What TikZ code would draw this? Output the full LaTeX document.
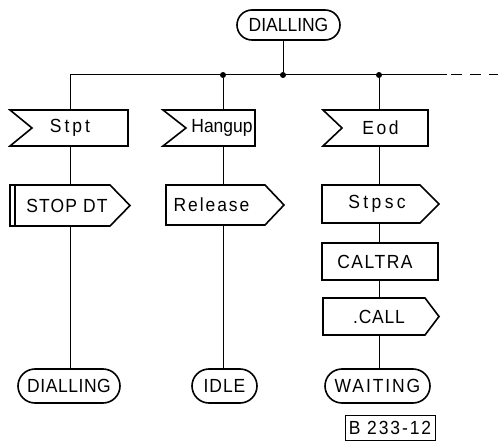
\documentclass[tikz,border=0pt]{standalone}
\usepackage{fontspec}
\setmainfont[FakeStretch=0.92]{Liberation Sans}
\usetikzlibrary{shapes.misc,calc}

\begin{document}
\begin{tikzpicture}[x=1pt,y=-1pt,
  txt/.style={font=\fontsize{19}{22}\selectfont\addfontfeature{LetterSpace=#1}},
  txt/.default=0,
  outl/.style={line width=1.6pt, line join=miter},
  conn/.style={line width=1pt},
  blk/.style={inner sep=0pt, outer sep=0pt},
  term/.style={draw, rounded rectangle, line width=1.6pt, inner sep=0pt},
  jdot/.style={circle, fill, inner sep=0pt, minimum size=6pt}]

\useasboundingbox (0,0) rectangle (498,441);

% ---- starting state and the branch bus ----
\node[term, txt=0, minimum width=103pt, minimum height=30pt] (top) at (288.5,25) {DIALLING};

\coordinate (busL) at (70,75);
\node[jdot] (j1) at (223,75) {};
\node[jdot] (j2) at (283,75) {};
\node[jdot] (j3) at (379,75) {};
\coordinate (busS) at (447,75);
\coordinate (busE) at (498,75);

% ---- input signals (notched on the left) ----
\node[blk, minimum width=118pt, minimum height=36pt,
      label={[txt=16, xshift=1pt]center:Stpt}] (stpt) at (69,128) {};
\node[blk, minimum width=92pt, minimum height=36pt,
      label={[txt=0, xshift=13pt]center:Hangup}] (hangup) at (209,128) {};
\node[blk, minimum width=105pt, minimum height=36pt,
      label={[txt=13, xshift=5pt]center:Eod}] (eod) at (375.5,128) {};

\foreach \n/\d in {stpt/22, hangup/23, eod/19}
  \draw[outl] (\n.north west) -- (\n.north east) -- (\n.south east)
              -- (\n.south west) -- ($(\n.west)+(\d,0)$) -- cycle;

% ---- output signals (pointed on the right) ----
\node[blk, minimum width=100pt, minimum height=41pt,
      label={[txt=6, xshift=7pt]center:STOP DT}] (stopdt) at (60,205.5) {};
\node[blk, minimum width=99pt, minimum height=40pt,
      label={[txt=10, xshift=-4pt]center:Release}] (release) at (215.5,205) {};
\node[blk, minimum width=98pt, minimum height=38pt,
      label={[txt=18, xshift=6pt]center:Stpsc}] (stpsc) at (371,204) {};
\node[blk, minimum width=102pt, minimum height=37pt,
      label={[txt=4, xshift=5pt]center:.CALL}] (call) at (374,316.5) {};

\foreach \n/\t in {stopdt/20, release/19, stpsc/19, call/14}
  \draw[outl] (\n.south west) -- (\n.north west) -- (\n.north east)
              -- ($(\n.east)+(\t,0)$) -- (\n.south east) -- cycle;

% double bar on the left of STOP DT
\draw[outl] ($(stopdt.north west)+(5,0)$) -- ($(stopdt.south west)+(5,0)$);

% ---- task ----
\node[draw, outl, blk, minimum width=116pt, minimum height=37pt,
      label={[txt=8, xshift=-5pt]center:CALTRA}] (caltra) at (380,261.5) {};

% ---- next states ----
\node[term, txt=3, minimum width=102pt, minimum height=34pt] (dial) at (69,386) {DIALLING};
\node[term, txt=5, minimum width=65pt, minimum height=34pt] (idle) at (224.5,386) {IDLE};
\node[term, txt=10, minimum width=105pt, minimum height=34pt] (wait) at (377.5,386) {WAITING};

% ---- figure reference ----
\node[draw, line width=1pt, txt=10, minimum width=90pt, minimum height=25pt, inner sep=1pt]
      (ref) at (390,427.5) {B 233-12};

% ---- connectors ----
\draw[conn] (busL) -- (busS);
\draw[conn, dash pattern=on 11pt off 8pt, dash phase=15pt] (busS) -- (busE);
\draw[conn] (top.south -| j2) -- (j2);

\draw[conn] (busL) -- (stpt.north -| busL);
\draw[conn] (stpt.south -| busL) -- (stopdt.north -| busL);
\draw[conn] (stopdt.south -| busL) -- (dial.north -| busL);

\draw[conn] (j1) -- (hangup.north -| j1);
\draw[conn] (hangup.south -| j1) -- (release.north -| j1);
\draw[conn] (release.south -| j1) -- (idle.north -| j1);

\draw[conn] (j3) -- (eod.north -| j3);
\draw[conn] (eod.south -| j3) -- (stpsc.north -| j3);
\draw[conn] (stpsc.south -| j3) -- (caltra.north -| j3);
\draw[conn] (caltra.south -| j3) -- (call.north -| j3);
\draw[conn] (call.south -| j3) -- (wait.north -| j3);
\end{tikzpicture}
\end{document}
